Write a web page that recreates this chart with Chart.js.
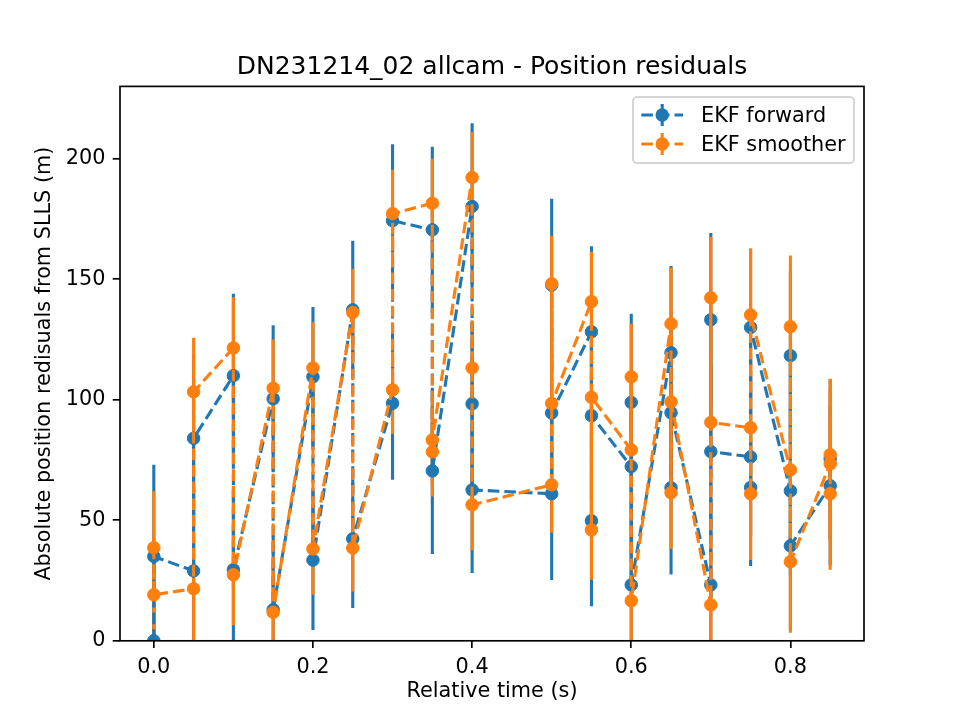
<!DOCTYPE html>
<html>
<head>
<meta charset="utf-8">
<title>DN231214_02 allcam - Position residuals</title>
<script src="https://cdn.jsdelivr.net/npm/chart.js@4.4.1/dist/chart.umd.min.js"></script>
<style>
    body { margin: 0; background: #fff; }
    #wrap { width: 960px; height: 720px; }
</style>
</head>
<body>
<div id="wrap"><canvas id="residualsChart" width="960" height="720"></canvas></div>
<script>
// values, in plotting order
const fwdTime = [0, 0, 0.05, 0.05, 0.1, 0.1, 0.15, 0.15, 0.2, 0.2, 0.25, 0.25, 0.3, 0.3, 0.35, 0.35,
    0.4, 0.4, 0.4, 0.5, 0.5, 0.5, 0.55, 0.55, 0.55, 0.6, 0.6, 0.6, 0.65, 0.65, 0.65,
    0.7, 0.7, 0.7, 0.75, 0.75, 0.75, 0.8, 0.8, 0.8, 0.85, 0.85];
const fwdResidual = [0, 35, 29, 84, 110, 29.5, 100.4, 12.9, 109.5, 33.5, 137.3, 42.3, 98.5, 174.3, 170.5, 70.5,
    180.2, 98.3, 62.6, 61, 147.6, 94.5, 128.2, 49.8, 93.4, 72.3, 98.9, 23.2, 119.5, 63.5, 94.6,
    23.2, 133.2, 78.5, 76.3, 63.6, 130, 62.2, 118.3, 39.4, 64.3, 75.5];
const fwdError = [38, 38, 35, 35, 34, 34, 30.5, 30.5, 29, 29, 28.7, 28.7, 31.7, 31.7, 34.5, 34.5,
    34.5, 34.5, 34.5, 35.8, 35.8, 35.8, 35.5, 35.5, 35.5, 36.8, 36.8, 36.8, 36, 36, 36,
    36, 36, 36, 32.6, 32.6, 32.6, 35, 35, 35, 33, 33];

const smTime = [0, 0, 0.05, 0.05, 0.1, 0.1, 0.15, 0.15, 0.2, 0.2, 0.25, 0.25, 0.3, 0.3, 0.35, 0.35, 0.35,
    0.4, 0.4, 0.4, 0.5, 0.5, 0.5, 0.55, 0.55, 0.55, 0.6, 0.6, 0.6, 0.65, 0.65, 0.65,
    0.7, 0.7, 0.7, 0.75, 0.75, 0.75, 0.8, 0.8, 0.8, 0.85, 0.85, 0.85];
const smResidual = [38.6, 19.1, 21.6, 103.3, 121.5, 27.4, 104.8, 11.8, 113.2, 38.1, 136.2, 38.5, 104.1, 177.2, 181.5, 78.4, 83.3,
    192.2, 113.2, 56.4, 64.7, 148.1, 98.5, 140.7, 46, 101, 79.2, 109.5, 16.6, 131.5, 61.4, 99.1,
    14.9, 142.3, 90.6, 88.4, 61, 135.2, 70.9, 130.3, 32.8, 73.4, 61, 77.2];
const smError = [23.4, 23.4, 22.4, 22.4, 21, 21, 20.2, 20.2, 19, 19, 18, 18, 18.2, 18.2, 18.5, 18.5, 18.5,
    18.8, 18.8, 18.8, 19.9, 19.9, 19.9, 20.7, 20.7, 20.7, 22, 22, 22, 23.3, 23.3, 23.3,
    25.3, 25.3, 25.3, 27.5, 27.5, 27.5, 29.5, 29.5, 29.5, 31.5, 31.5, 31.5];

const seriesNames = ['EKF forward', 'EKF smoother'];
const seriesColors = ['#1f77b4', '#ff7f0e'];
const xTicks = [0, 0.2, 0.4, 0.6, 0.8];
const yTicks = [0, 50, 100, 150, 200];

const chartTitle = 'DN231214_02 allcam - Position residuals';
const xTitle = 'Relative time (s)';
const yTitle = 'Absolute position redisuals from SLLS (m)';

const FONT = '"DejaVu Sans", sans-serif';
const LW = 3.1;          // 1.5pt at 150 dpi
const DASH = [11.6, 5];

function toPoints(times, values) {
    return times.map((t, i) => ({x: t, y: values[i]}));
}

// error bars go under both lines, like matplotlib does it
const errorBars = {
    id: 'errorBars',
    beforeDatasetsDraw(chart) {
        const {ctx, chartArea: a} = chart;
        const x = chart.scales.x, y = chart.scales.y;
        ctx.save();
        ctx.beginPath();
        ctx.rect(a.left, a.top, a.right - a.left, a.bottom - a.top);
        ctx.clip();
        ctx.lineWidth = LW;
        chart.data.datasets.forEach(ds => {
            ctx.strokeStyle = ds.borderColor;
            ds.data.forEach((p, i) => {
                const px = x.getPixelForValue(p.x);
                ctx.beginPath();
                ctx.moveTo(px, y.getPixelForValue(p.y - ds.errors[i]));
                ctx.lineTo(px, y.getPixelForValue(p.y + ds.errors[i]));
                ctx.stroke();
            });
        });
        ctx.restore();
    }
};

// frame, titles and the legend box
const decorations = {
    id: 'decorations',
    afterDatasetsDraw(chart) {
        const {ctx, chartArea: a} = chart;
        ctx.save();
        ctx.strokeStyle = '#000';
        ctx.lineWidth = 1.67;
        ctx.strokeRect(a.left, a.top, a.right - a.left, a.bottom - a.top);

        ctx.fillStyle = '#000';
        ctx.textAlign = 'center';
        ctx.textBaseline = 'alphabetic';
        ctx.font = '25px ' + FONT;
        ctx.fillText(chartTitle, (a.left + a.right) / 2, 74);

        ctx.font = '20.8px ' + FONT;
        ctx.textBaseline = 'middle';
        ctx.fillText(xTitle, (a.left + a.right) / 2, 692);

        ctx.translate(45, (a.top + a.bottom) / 2);
        ctx.rotate(-Math.PI / 2);
        ctx.fillText(yTitle, 0, 0);
        ctx.restore();

        // legend
        const box = {left: 633, top: 97, right: 854, bottom: 163};
        ctx.save();
        ctx.beginPath();
        ctx.roundRect(box.left, box.top, box.right - box.left, box.bottom - box.top, 4);
        ctx.fillStyle = 'rgba(255,255,255,0.8)';
        ctx.fill();
        ctx.strokeStyle = 'rgba(204,204,204,0.8)';
        ctx.lineWidth = 2;
        ctx.stroke();

        const rows = [115, 144];
        seriesNames.forEach((name, i) => {
            const cy = rows[i];
            ctx.strokeStyle = seriesColors[i];
            ctx.fillStyle = seriesColors[i];
            ctx.lineWidth = LW;
            ctx.setLineDash(DASH);
            ctx.beginPath();
            ctx.moveTo(641.3, cy);
            ctx.lineTo(683, cy);
            ctx.stroke();
            ctx.setLineDash([]);
            ctx.beginPath();
            ctx.moveTo(662.2, cy - 11);
            ctx.lineTo(662.2, cy + 11);
            ctx.stroke();
            ctx.beginPath();
            ctx.arc(662.2, cy, 6.7, 0, Math.PI * 2);
            ctx.fill();

            ctx.fillStyle = '#000';
            ctx.font = '20.8px ' + FONT;
            ctx.textAlign = 'left';
            ctx.textBaseline = 'alphabetic';
            ctx.fillText(name, 701, cy + 6.5);
        });
        ctx.restore();
    }
};

function makeDataset(label, times, values, errors, color, order) {
    return {
        label: label,
        data: toPoints(times, values),
        errors: errors,
        showLine: true,
        borderColor: color,
        backgroundColor: color,
        borderWidth: LW,
        borderDash: DASH,
        tension: 0,
        pointRadius: 6.25,
        pointHoverRadius: 6.25,
        pointBorderWidth: 1,
        pointBorderColor: color,
        pointBackgroundColor: color,
        clip: 0,
        order: order
    };
}

const ctx = document.getElementById('residualsChart').getContext('2d');
const chart = new Chart(ctx, {
    type: 'scatter',
    data: {
        datasets: [
            makeDataset(seriesNames[0], fwdTime, fwdResidual, fwdError, seriesColors[0], 1),
            makeDataset(seriesNames[1], smTime, smResidual, smError, seriesColors[1], 0)
        ]
    },
    options: {
        responsive: false,
        animation: false,
        devicePixelRatio: 1,
        layout: {padding: {left: 0, top: 86.4, right: 96, bottom: 0}},
        plugins: {
            legend: {display: false},
            title: {display: false},
            tooltip: {enabled: false}
        },
        scales: {
            x: {
                type: 'linear',
                min: -0.0425,
                max: 0.8925,
                afterBuildTicks: scale => { scale.ticks = xTicks.map(v => ({value: v})); },
                afterFit: scale => { scale.height = 79.2; },
                border: {display: false},
                grid: {drawOnChartArea: false, drawTicks: true, tickLength: 7.3, color: '#000', lineWidth: 1.67},
                ticks: {
                    color: '#000',
                    padding: 7.3,
                    maxRotation: 0,
                    font: {family: FONT, size: 20.8},
                    callback: v => v.toFixed(1)
                }
            },
            y: {
                type: 'linear',
                min: 0,
                max: 230,
                afterBuildTicks: scale => { scale.ticks = yTicks.map(v => ({value: v})); },
                afterFit: scale => { scale.width = 120; },
                border: {display: false},
                grid: {drawOnChartArea: false, drawTicks: true, tickLength: 7.3, color: '#000', lineWidth: 1.67},
                ticks: {
                    color: '#000',
                    padding: 7.3,
                    font: {family: FONT, size: 20.8},
                    callback: v => String(v)
                }
            }
        }
    },
    plugins: [errorBars, decorations]
});
</script>
</body>
</html>
